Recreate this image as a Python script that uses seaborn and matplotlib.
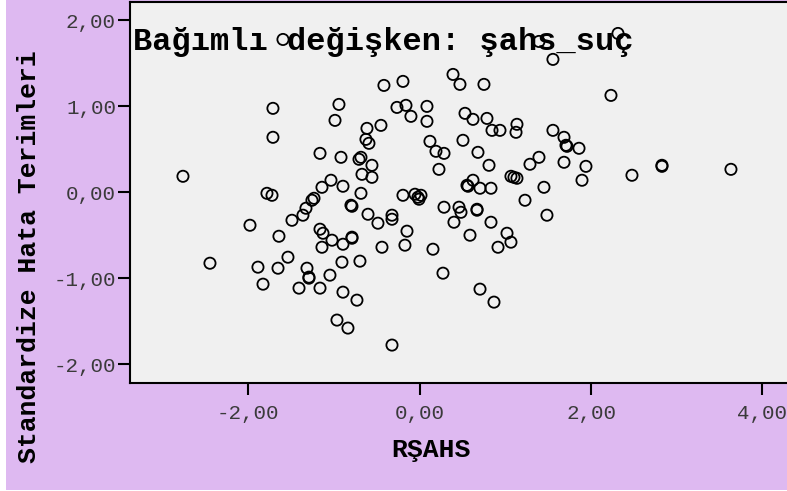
import matplotlib
matplotlib.use('Agg')
import matplotlib.pyplot as plt
import seaborn as sns
import pandas as pd
from matplotlib.patches import Rectangle

# values (x = RŞAHS, y = standardized residual)
rsahs = [
    -1.595, 1.392, 2.314, 1.555, 2.232, -0.417, -0.195, 0.389, 0.470, 0.750,
    -1.712, -1.712, -0.942, -0.988, -1.163, -0.918, -2.762, -1.782, -1.723, -1.035,
    -1.140, -0.895, -1.257, -1.233, -0.265, -0.160, -0.102, 0.085, 0.085, 0.529,
    0.622, 0.785, 0.844, 0.937, 1.135, 1.124, 1.555, -0.452, -0.615, -0.627,
    -0.592, 0.120, 0.190, 0.284, 0.225, 0.505, 0.680, 0.809, 1.392, 1.287,
    -0.685, -0.708, -0.557, -0.673, -0.557, -0.685, -0.195, -0.055, -0.020, 0.015,
    -0.008, 0.552, 0.564, 0.622, 0.704, 0.832, 1.065, 1.100, 1.135, 1.450,
    1.229, 1.684, 1.707, 1.719, 1.859, 1.684, 1.940, 1.894, 2.477, 2.827,
    2.827, 3.632, -1.327, -1.362, -1.490, -1.980, -1.642, -1.163, -1.128, -1.023,
    -0.895, -1.140, -0.790, -0.790, -0.790, -0.802, -2.447, -1.887, -1.653, -1.537,
    -1.315, -1.292, -1.292, -1.047, -0.907, -1.828, -1.408, -1.163, -0.895, -0.965,
    -0.837, -0.697, -0.732, -0.323, -0.603, -0.487, -0.323, -0.323, -0.148, -0.172,
    -0.440, 0.155, 0.272, 0.284, 0.459, 0.482, 0.669, 0.669, 0.400, 0.587,
    0.832, 1.019, 1.065, 0.914, 1.485, 0.704, 0.867,
]
resid = [
    1.779, 1.756, 1.849, 1.547, 1.128, 1.244, 1.291, 1.372, 1.256, 1.256,
    0.977, 0.640, 1.023, 0.837, 0.453, 0.407, 0.186, -0.012, -0.035, 0.140,
    0.058, 0.070, -0.093, -0.070, 0.988, 1.012, 0.884, 1.000, 0.826, 0.919,
    0.849, 0.860, 0.721, 0.721, 0.791, 0.698, 0.721, 0.779, 0.744, 0.616,
    0.570, 0.593, 0.477, 0.453, 0.267, 0.605, 0.465, 0.314, 0.407, 0.326,
    0.407, 0.384, 0.314, 0.209, 0.174, -0.012, -0.035, -0.023, -0.058, -0.035,
    -0.081, 0.081, 0.070, 0.140, 0.047, 0.047, 0.186, 0.174, 0.163, 0.058,
    -0.093, 0.640, 0.547, 0.535, 0.512, 0.349, 0.302, 0.140, 0.198, 0.302,
    0.314, 0.267, -0.186, -0.267, -0.326, -0.384, -0.512, -0.430, -0.477, -0.558,
    -0.605, -0.640, -0.523, -0.535, -0.163, -0.151, -0.826, -0.872, -0.884, -0.756,
    -0.884, -0.988, -1.000, -0.965, -0.814, -1.070, -1.116, -1.116, -1.163, -1.488,
    -1.581, -0.802, -1.256, -1.779, -0.256, -0.360, -0.267, -0.314, -0.453, -0.616,
    -0.640, -0.663, -0.942, -0.174, -0.174, -0.233, -0.198, -0.209, -0.349, -0.500,
    -0.349, -0.477, -0.581, -0.640, -0.267, -1.128, -1.279,
]

x_ticks = [-2, 0, 2, 4]
x_labels = ['-2,00', '0,00', '2,00', '4,00']
y_ticks = [-2, -1, 0, 1, 2]
y_labels = ['-2,00', '-1,00', '0,00', '1,00', '2,00']

df = pd.DataFrame({'RSAHS': rsahs, 'resid': resid})

sns.set_theme(style='white')
plt.rcParams['font.family'] = ['Liberation Mono', 'DejaVu Sans']

W, H = 787, 491
fig = plt.figure(figsize=(W / 100, H / 100), dpi=100, facecolor='white')
fig.patches.append(Rectangle((6 / W, 1 / H), 1, 1, transform=fig.transFigure,
                             facecolor='#DEB9F1', edgecolor='none', zorder=-10))

ax = fig.add_axes([130 / W, (H - 382.7) / H, (W - 130) / W, (382.7 - 1.5) / H])
ax.set_facecolor('#F0F0F0')

sns.scatterplot(data=df, x='RSAHS', y='resid', ax=ax, marker='o', s=65,
                facecolor='none', edgecolor='black', linewidth=1.3)

ax.set_xlim(-3.38, 4.286)
ax.set_ylim(-2.217, 2.221)
ax.set_xticks(x_ticks)
ax.set_xticklabels(x_labels)
ax.set_yticks(y_ticks)
ax.set_yticklabels(y_labels)
ax.set_xlabel('')
ax.set_ylabel('')

for side in ['left', 'bottom', 'top']:
    ax.spines[side].set_color('black')
    ax.spines[side].set_linewidth(1.5)
ax.spines['right'].set_visible(False)

ax.tick_params(axis='both', direction='out', length=8.6, width=1.5, color='black',
               labelsize=15, labelcolor='#3a3a3a')
ax.tick_params(axis='x', bottom=True, pad=6.5)
ax.tick_params(axis='y', left=True, pad=1.5)

fig.text(133 / W, 1 - 50 / H, 'Bağımlı değişken: şahs_suç', fontsize=23,
         fontweight='bold', color='black', ha='left', va='baseline')
fig.text(431 / W, 1 - 457 / H, 'RŞAHS', fontsize=19, fontweight='bold',
         color='black', ha='center', va='baseline')
fig.text(29 / W, 1 - 256.5 / H, 'Standardize Hata Terimleri', fontsize=19,
         fontweight='bold', color='black', rotation=90, ha='center', va='center')

fig.savefig('out.png', dpi=100)
